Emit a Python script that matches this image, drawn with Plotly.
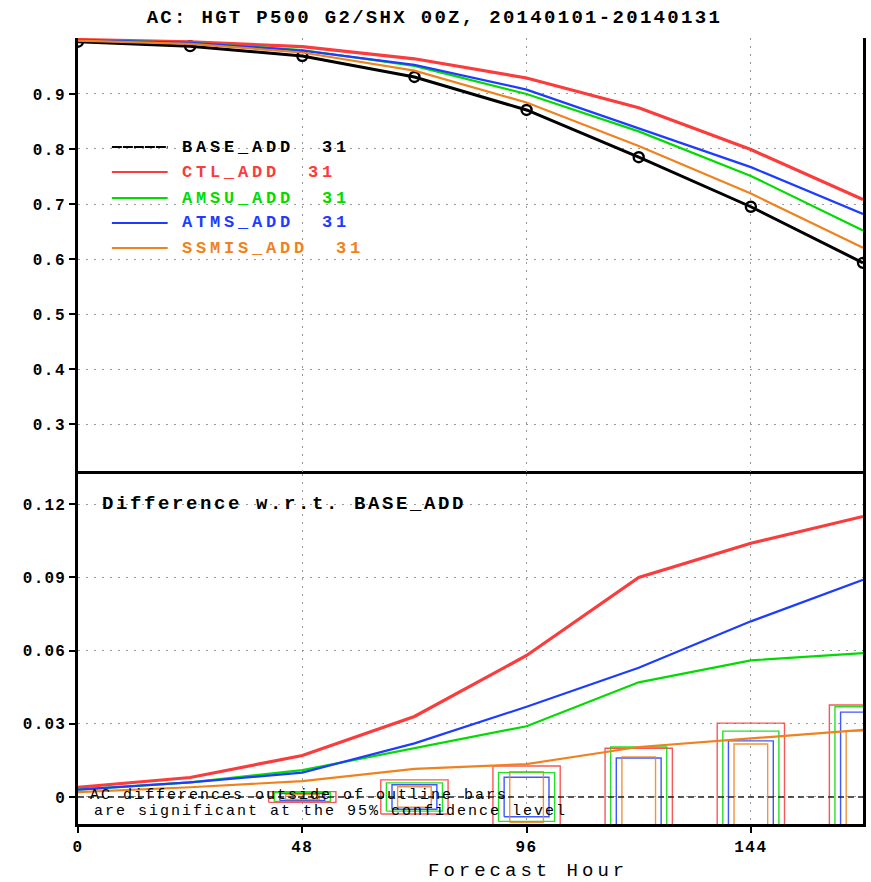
import plotly.graph_objects as go

# Forecast hours and anomaly correlation (AC) for HGT P500, Jan 2014
hours = [0, 24, 48, 72, 96, 120, 144, 168]
ac_base = [0.995, 0.987, 0.969, 0.931, 0.871, 0.785, 0.695, 0.593]
ac_ctl = [0.999, 0.995, 0.986, 0.964, 0.929, 0.875, 0.799, 0.708]
ac_amsu = [0.998, 0.993, 0.980, 0.951, 0.900, 0.832, 0.751, 0.652]
ac_atms = [0.998, 0.993, 0.979, 0.953, 0.908, 0.838, 0.767, 0.682]
ac_ssmis = [0.997, 0.991, 0.9755, 0.9425, 0.8845, 0.8055, 0.719, 0.6205]
n_cases = 31

# 95% significance half-widths of AC differences
sig_hours = [48, 72, 96, 120, 144, 168]
sig_ctl = [0.0022, 0.0070, 0.0127, 0.0200, 0.0303, 0.0377]
sig_amsu = [0.0018, 0.0058, 0.0100, 0.0205, 0.0270, 0.0370]
sig_atms = [0.0014, 0.0050, 0.0081, 0.0160, 0.0230, 0.0348]
sig_ssmis = [0.0010, 0.0042, 0.0104, 0.0164, 0.0217, 0.0270]

top_ticks = [0.3, 0.4, 0.5, 0.6, 0.7, 0.8, 0.9]
diff_ticks = [0, 0.03, 0.06, 0.09, 0.12]
x_ticks = [0, 48, 96, 144]

BLACK = "#000000"
RED = "#fa3c3c"
GREEN = "#00dc00"
BLUE = "#1e3cff"
ORANGE = "#f0821e"
GRID = "#9a9a9a"
MONO = "Liberation Mono"

experiments = [
    ("CTL_ADD", ac_ctl, sig_ctl, RED, 3.2, 7.2),
    ("AMSU_ADD", ac_amsu, sig_amsu, GREEN, 2.2, 6.0),
    ("ATMS_ADD", ac_atms, sig_atms, BLUE, 2.2, 4.8),
    ("SSMIS_ADD", ac_ssmis, sig_ssmis, ORANGE, 2.2, 3.6),
]

W, H = 871, 882
L, R, T, B = 78, 5, 38, 58
plot_w = W - L - R
plot_h = H - T - B
split = (824 - 474) / plot_h


def px(x):
    return (x - L) / plot_w


def py(y):
    return (H - B - y) / plot_h


def spaced(text, sp):
    return f'<span style="letter-spacing:{sp}px">{text}</span>'


fig = go.Figure()

# Upper panel: AC scores
fig.add_trace(go.Scatter(
    x=hours, y=ac_base, mode="lines+markers", xaxis="x", yaxis="y2",
    line=dict(color=BLACK, width=3),
    marker=dict(symbol="circle-open", size=10, color=BLACK, line=dict(width=2.4)),
    showlegend=False, hoverinfo="skip"))
for name, ac, sig, col, lw, hw in experiments:
    fig.add_trace(go.Scatter(
        x=hours, y=ac, mode="lines", xaxis="x", yaxis="y2",
        line=dict(color=col, width=lw), showlegend=False, hoverinfo="skip"))

# Lower panel: significance outline bars
for name, ac, sig, col, lw, hw in experiments:
    bx, by = [], []
    for h, s in zip(sig_hours, sig):
        bx += [h - hw, h - hw, h + hw, h + hw, h - hw, None]
        by += [-s, s, s, -s, -s, None]
    fig.add_trace(go.Scatter(
        x=bx, y=by, mode="lines", xaxis="x", yaxis="y",
        line=dict(color=col, width=1.4), opacity=0.85,
        showlegend=False, hoverinfo="skip"))

# Lower panel: differences with respect to BASE_ADD
for name, ac, sig, col, lw, hw in experiments:
    diff = [a - b for a, b in zip(ac, ac_base)]
    fig.add_trace(go.Scatter(
        x=hours, y=diff, mode="lines", xaxis="x", yaxis="y",
        line=dict(color=col, width=lw), showlegend=False, hoverinfo="skip"))

tick_font = dict(family=MONO, size=16, color=BLACK, weight="bold")
grid = dict(showgrid=True, gridcolor=GRID, griddash="2px,6px", gridwidth=1.3)

fig.update_layout(
    width=W, height=H,
    margin=dict(l=L, r=R, t=T, b=B),
    paper_bgcolor="white", plot_bgcolor="white",
    title=dict(
        text=spaced("AC: HGT P500 G2/SHX 00Z, 20140101-20140131", 2.3),
        x=px(471), xanchor="center", y=1 - 16 / H, yanchor="middle",
        font=dict(family=MONO, size=19, color=BLACK, weight="bold")),
    xaxis=dict(
        domain=[0, 1], range=[0, 168],
        tickvals=x_ticks, ticktext=[spaced(str(v), 1.5) for v in x_ticks],
        tickfont=tick_font, ticks="outside", ticklen=6, tickwidth=2, tickcolor=BLACK,
        showline=True, linecolor=BLACK, linewidth=2.5, mirror=True,
        zeroline=False, anchor="y", **grid),
    xaxis2=dict(
        domain=[0, 1], range=[0, 168], matches="x", anchor="y2",
        tickvals=x_ticks, showticklabels=False, ticks="",
        showline=True, linecolor=BLACK, linewidth=2.5, mirror=True,
        zeroline=False, **grid),
    yaxis=dict(
        domain=[0, split], range=[-0.01107, 0.1324],
        tickvals=diff_ticks,
        ticktext=[spaced("0" if v == 0 else f"{v:.2f}", 1.2) for v in diff_ticks],
        tickfont=tick_font, ticks="outside", ticklen=6, tickwidth=2, tickcolor=BLACK,
        showline=True, linecolor=BLACK, linewidth=2.5, mirror=True,
        zeroline=False, anchor="x", **grid),
    yaxis2=dict(
        domain=[split, 1], range=[0.2091, 1.0018],
        tickvals=top_ticks, ticktext=[spaced(f"{v:.1f}", 1.5) for v in top_ticks],
        tickfont=tick_font, ticks="outside", ticklen=6, tickwidth=2, tickcolor=BLACK,
        showline=True, linecolor=BLACK, linewidth=2.5, mirror=True,
        zeroline=False, anchor="x2", **grid),
    showlegend=False,
)

# Zero reference line of the difference panel
fig.add_shape(type="line", xref="x", yref="y", x0=0, x1=168, y0=0, y1=0,
              line=dict(color="#222222", width=1.5, dash="6px,4px"))

# Hand-drawn legend in the upper panel
legend_rows = [("BASE_ADD", BLACK)] + [(e[0], e[3]) for e in experiments]
row_y = [147, 172, 198, 223, 248]
for (name, col), yy in zip(legend_rows, row_y):
    fig.add_shape(type="line", xref="paper", yref="paper",
                  x0=px(112), x1=px(168), y0=py(yy), y1=py(yy),
                  line=dict(color=col, width=2.2,
                            dash="10px,1px" if col == BLACK else "solid"))
    fig.add_annotation(
        xref="paper", yref="paper", x=px(180), y=py(yy),
        xanchor="left", yanchor="middle", showarrow=False,
        text=spaced(f"{name}  {n_cases}", 3.8),
        font=dict(family=MONO, size=17, color=col, weight="bold"))

fig.add_annotation(
    xref="paper", yref="paper", x=px(100), y=py(504),
    xanchor="left", yanchor="middle", showarrow=False,
    text=spaced("Difference w.r.t. BASE_ADD", 2.6),
    font=dict(family=MONO, size=19, color=BLACK, weight="bold"))

fig.add_annotation(
    xref="paper", yref="paper", x=px(88), y=py(795),
    xanchor="left", yanchor="middle", showarrow=False,
    text=spaced("AC differences outside of outline bars", 2.0),
    font=dict(family=MONO, size=15, color=BLACK))
fig.add_annotation(
    xref="paper", yref="paper", x=px(92), y=py(811),
    xanchor="left", yanchor="middle", showarrow=False,
    text=spaced("are significant at the 95% confidence level", 2.0),
    font=dict(family=MONO, size=15, color=BLACK))

fig.add_annotation(
    xref="paper", yref="paper", x=px(530), y=py(871),
    xanchor="center", yanchor="middle", showarrow=False,
    text=spaced("Forecast Hour", 4.0),
    font=dict(family=MONO, size=19, color=BLACK))

fig.write_html("out.html")
